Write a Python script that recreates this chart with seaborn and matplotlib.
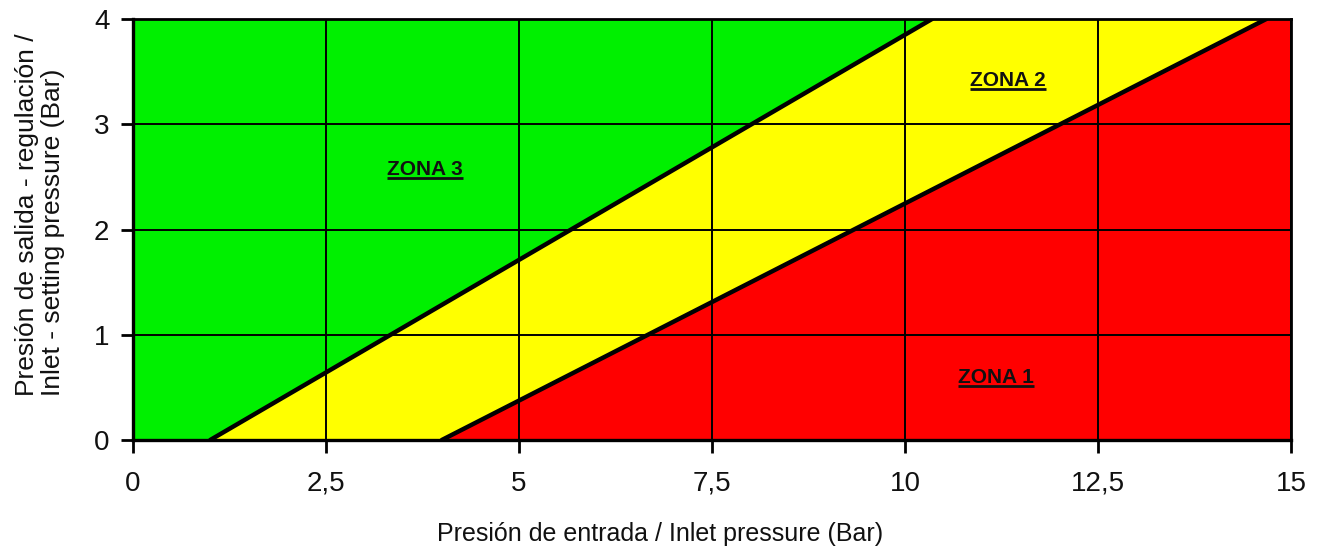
import numpy as np
import pandas as pd
import seaborn as sns
import matplotlib.pyplot as plt

# zone boundaries (inlet pressure, setting pressure)
upper_x = [1.0, 10.35]
upper_y = [0.0, 4.0]
lower_x = [4.0, 14.68]
lower_y = [0.0, 4.0]

x_ticks = [0, 2.5, 5, 7.5, 10, 12.5, 15]
x_tick_labels = ['0', '2,5', '5', '7,5', '10', '12,5', '15']
y_ticks = [0, 1, 2, 3, 4]

zone_names = ['ZONA 3', 'ZONA 2', 'ZONA 1']
zone_x = [3.78, 11.33, 11.18]
zone_y = [2.57, 3.42, 0.59]

x_max = 15
y_max = 4

sns.set_theme(style='white')
plt.rcParams['font.family'] = ['Liberation Sans', 'DejaVu Sans']

fig = plt.figure(figsize=(13.19, 5.48), dpi=100)
ax = fig.add_axes([133 / 1319, 1 - 440 / 548, 1158 / 1319, 421 / 548])

# coloured zones
ax.fill([0, upper_x[0], upper_x[1], 0], [0, upper_y[0], upper_y[1], y_max],
        color='#00f000', lw=0, zorder=1)
ax.fill([upper_x[0], lower_x[0], lower_x[1], upper_x[1]],
        [upper_y[0], lower_y[0], lower_y[1], upper_y[1]],
        color='#ffff00', lw=0, zorder=1)
ax.fill([lower_x[0], x_max, x_max, lower_x[1]], [lower_y[0], 0, y_max, lower_y[1]],
        color='#ff0000', lw=0, zorder=1)

# boundary lines
df = pd.DataFrame({
    'x': upper_x + lower_x,
    'y': upper_y + lower_y,
    'line': ['upper'] * 2 + ['lower'] * 2,
})
sns.lineplot(data=df, x='x', y='y', units='line', estimator=None,
             color='black', lw=3.2, ax=ax, zorder=4)

ax.set_xlim(0, x_max)
ax.set_ylim(0, y_max)
ax.set_xticks(x_ticks)
ax.set_xticklabels(x_tick_labels)
ax.set_yticks(y_ticks)
ax.tick_params(axis='both', which='major', labelsize=20, length=9, width=2,
               direction='out', colors='black', labelcolor='#111111', pad=8,
               bottom=True, left=True)
ax.tick_params(axis='x', pad=13)
ax.tick_params(axis='y', pad=8)

ax.grid(True, color='black', lw=1.4)
ax.set_axisbelow(False)
for s in ax.spines.values():
    s.set_color('black')
    s.set_linewidth(2)
ax.spines['left'].set_linewidth(2.4)
ax.spines['bottom'].set_linewidth(2.4)

ax.set_xlabel('Presión de entrada / Inlet pressure (Bar)', fontsize=18, color='#111111')
ax.xaxis.set_label_coords((660 - 133) / 1158, (440 - 522) / 421)
ax.set_ylabel('Presión de salida - regulación /\nInlet - setting pressure (Bar)',
              fontsize=19, color='#111111', multialignment='left', linespacing=1.1)
ax.yaxis.set_label_coords((65 - 133) / 1158, (440 - 215) / 421)

# zone labels, bold and underlined
labels = []
for name, zx, zy in zip(zone_names, zone_x, zone_y):
    labels.append(ax.text(zx, zy, name, fontsize=15, fontweight='bold', ha='center',
                          va='center', color='#111111', zorder=5))
fig.canvas.draw()
renderer = fig.canvas.get_renderer()
inv = ax.transData.inverted()
for t in labels:
    bb = t.get_window_extent(renderer)
    (x0, y0), (x1, _) = inv.transform([(bb.x0, bb.y0 + 1), (bb.x1, bb.y0)])
    ax.plot([x0, x1], [y0, y0], color='#111111', lw=2, zorder=5, solid_capstyle='butt')

fig.savefig('out.png', dpi=100)
